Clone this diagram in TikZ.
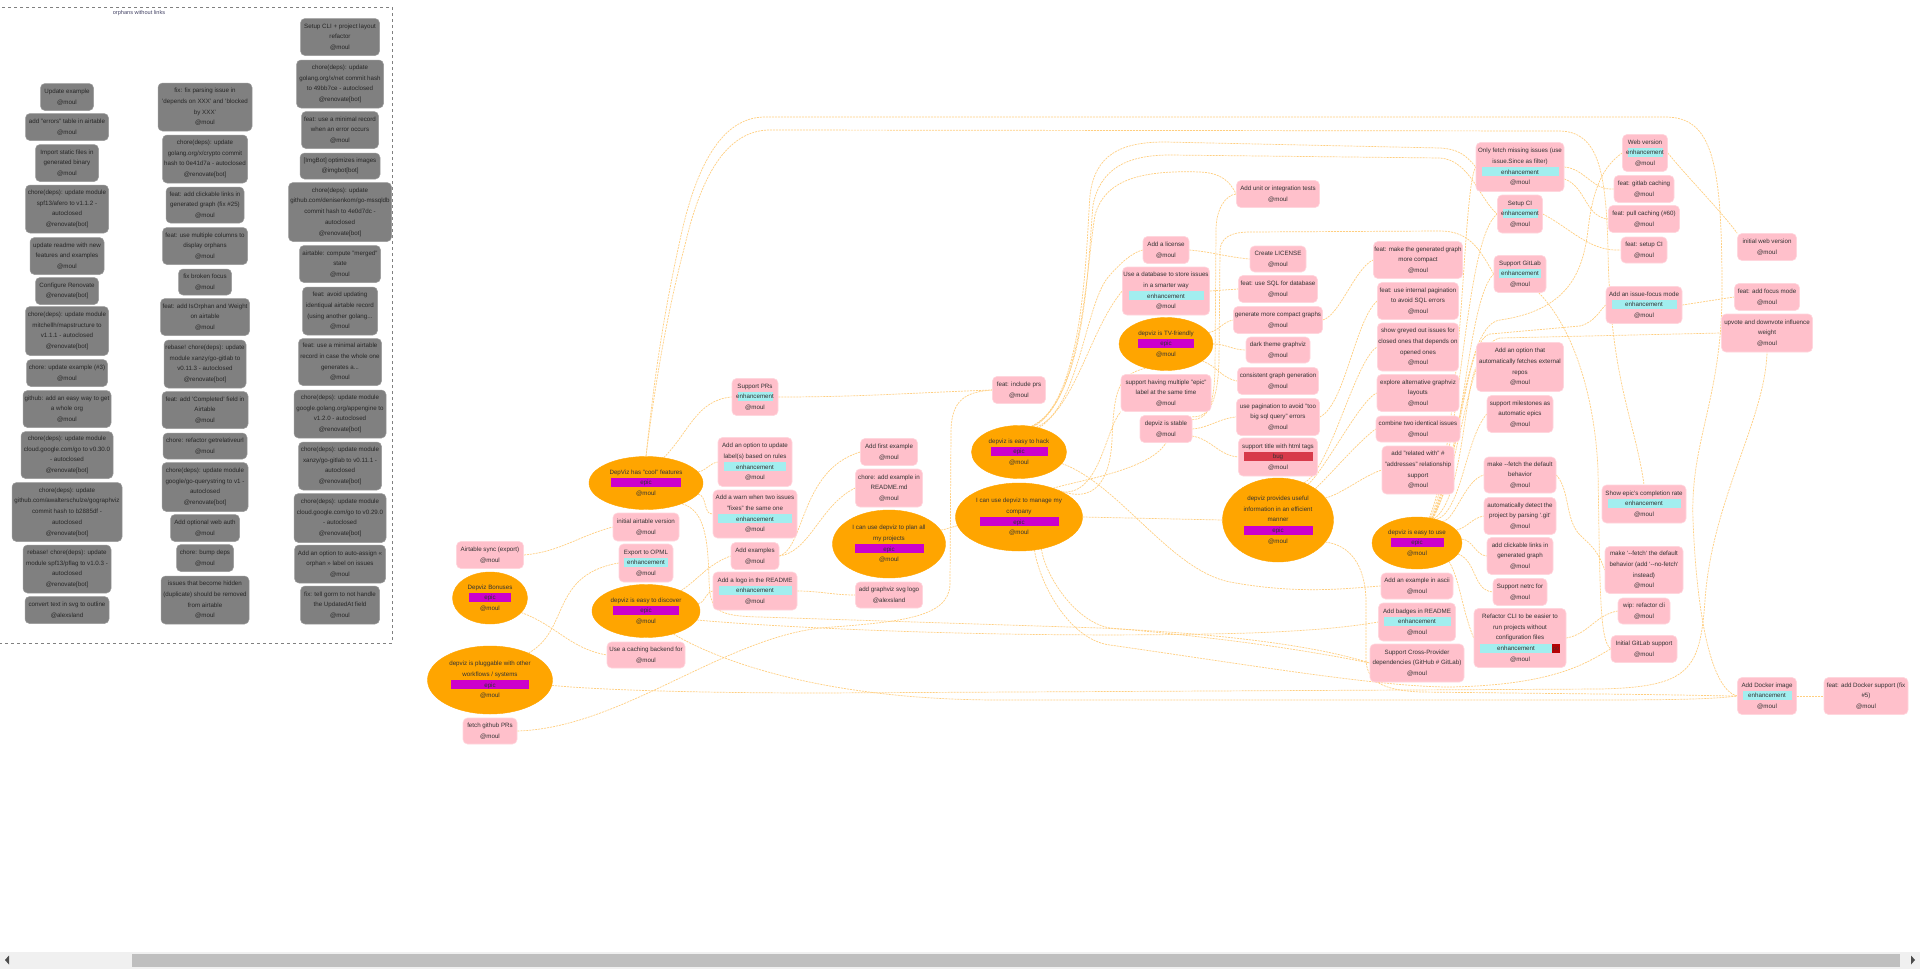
\documentclass[tikz,border=0pt]{standalone}
\usepackage{fontspec}
\setmainfont{Liberation Sans}
\usetikzlibrary{shapes.geometric}
\pgfdeclarelayer{bg}
\pgfsetlayers{bg,main}
\definecolor{pk}{HTML}{FFC0CB}
\definecolor{pkb}{HTML}{FFD6DD}
\definecolor{gy}{HTML}{808080}
\definecolor{gyb}{HTML}{9A9A9A}
\definecolor{ep}{HTML}{FFA500}
\definecolor{epl}{HTML}{CC00CC}
\definecolor{enh}{HTML}{A2EEEF}
\definecolor{bugc}{HTML}{D73A4A}
\definecolor{pzero}{HTML}{B60205}
\definecolor{tx}{HTML}{333333}
\definecolor{edgec}{HTML}{FFCF80}
\definecolor{ttl}{HTML}{444466}
\newcommand{\tagbox}[3]{{\setlength{\fboxsep}{0pt}\colorbox{#1}{\makebox[#2pt]{\rule[-2.3pt]{0pt}{9.3pt}#3}}}}
\tikzset{
  basetxt/.style={font=\fontsize{6.2}{10.7}\selectfont, text=tx, align=center, inner sep=1pt},
  pkn/.style 2 args={basetxt, rounded corners=4.5pt, fill=pk, draw=pkb, line width=0.6pt, minimum width=#1pt, minimum height=#2pt},
  gyn/.style 2 args={basetxt, rounded corners=4.5pt, fill=gy, draw=gyb, line width=0.5pt, minimum width=#1pt, minimum height=#2pt, text=black!85},
  epn/.style 2 args={basetxt, ellipse, fill=ep, draw=ep, inner sep=0pt, minimum width=#1pt, minimum height=#2pt},
  ed/.style={draw=edgec, line width=0.7pt, dash pattern=on 2pt off 1pt},
}
\begin{document}
\begin{tikzpicture}[x=1pt,y=-1pt]
\useasboundingbox (0,0) rectangle (1920,969);
\begin{pgfonlayer}{bg}
\fill[white] (0,0) rectangle (1920,969);
\end{pgfonlayer}

% ---------------- orphans cluster ----------------
\draw[gray, dashed, line width=0.5pt] (-1,7) rectangle (392,643);
\node[font=\fontsize{5.6}{6}\selectfont, text=ttl] (cltitle) at (139,13) {orphans without links};

\node[gyn={53}{27}] (g1) at (67,97) {Update example\\@moul};
\node[gyn={83}{27}] (g2) at (67,127) {add "errors" table in airtable\\@moul};
\node[gyn={63}{37}] (g3) at (67,163) {Import static files in\\generated binary\\@moul};
\node[gyn={83}{48}] (g4) at (67,209) {chore(deps): update module\\spf13/afero to v1.1.2 -\\autoclosed\\@renovate[bot]};
\node[gyn={74}{37}] (g5) at (67,256) {update readme with new\\features and examples\\@moul};
\node[gyn={63}{27}] (g6) at (67,291) {Configure Renovate\\@renovate[bot]};
\node[gyn={83}{49}] (g7) at (67,331) {chore(deps): update module\\mitchellh/mapstructure to\\v1.1.1 - autoclosed\\@renovate[bot]};
\node[gyn={81}{27}] (g8) at (67,373) {chore: update example (\#3)\\@moul};
\node[gyn={88}{37}] (g9) at (67,409) {github: add an easy way to get\\a whole org\\@moul};
\node[gyn={92}{47}] (g10) at (67,455) {chore(deps): update module\\cloud.google.com/go to v0.30.0\\- autoclosed\\@renovate[bot]};
\node[gyn={110}{59}] (g11) at (67,512) {chore(deps): update\\github.com/awalterschulze/gographviz\\commit hash to b2885df -\\autoclosed\\@renovate[bot]};
\node[gyn={88}{48}] (g12) at (67,569) {rebase! chore(deps): update\\module spf13/pflag to v1.0.3 -\\autoclosed\\@renovate[bot]};
\node[gyn={84}{27}] (g13) at (67,610) {convert text in svg to outline\\@alexsland};

\node[gyn={94}{48}] (h1) at (205,107) {fix: fix parsing issue in\\'depends on XXX' and 'blocked\\by XXX'\\@moul};
\node[gyn={85}{48}] (h2) at (205,159) {chore(deps): update\\golang.org/x/crypto commit\\hash to 0e41d7a - autoclosed\\@renovate[bot]};
\node[gyn={78}{36}] (h3) at (205,205) {feat: add clickable links in\\generated graph (fix \#25)\\@moul};
\node[gyn={85}{37}] (h4) at (205,246) {feat: use multiple columns to\\display orphans\\@moul};
\node[gyn={53}{26}] (h5) at (205,282) {fix broken focus\\@moul};
\node[gyn={89}{37}] (h6) at (205,317) {feat: add IsOrphan and Weight\\on airtable\\@moul};
\node[gyn={82}{48}] (h7) at (205,364) {rebase! chore(deps): update\\module xanzy/go-gitlab to\\v0.11.3 - autoclosed\\@renovate[bot]};
\node[gyn={86}{37}] (h8) at (205,410) {feat: add 'Completed' field in\\Airtable\\@moul};
\node[gyn={84}{26}] (h9) at (205,446) {chore: refactor getrelativeurl\\@moul};
\node[gyn={86}{49}] (h10) at (205,487) {chore(deps): update module\\google/go-querystring to v1 -\\autoclosed\\@renovate[bot]};
\node[gyn={69}{27}] (h11) at (205,528) {Add optional web auth\\@moul};
\node[gyn={57}{27}] (h12) at (205,558) {chore: bump deps\\@moul};
\node[gyn={88}{48}] (h13) at (205,600) {issues that become hidden\\(duplicate) should be removed\\from airtable\\@moul};

\node[gyn={79}{37}] (k1) at (340,37) {Setup CLI + project layout\\refactor\\@moul};
\node[gyn={87}{48}] (k2) at (340,84) {chore(deps): update\\golang.org/x/net commit hash\\to 49bb7ce - autoclosed\\@renovate[bot]};
\node[gyn={77}{37}] (k3) at (340,130) {feat: use a minimal record\\when an error occurs\\@moul};
\node[gyn={80}{26}] (k4) at (340,166) {[ImgBot] optimizes images\\@imgbot[bot]};
\node[gyn={103}{59}] (k5) at (340,212) {chore(deps): update\\github.com/denisenkom/go-mssqldb\\commit hash to 4e0d7dc -\\autoclosed\\@renovate[bot]};
\node[gyn={81}{37}] (k6) at (340,264) {airtable: compute "merged"\\state\\@moul};
\node[gyn={75}{48}] (k7) at (340,311) {feat: avoid updating\\identiqual airtable record\\(using another golang...\\@moul};
\node[gyn={83}{47}] (k8) at (340,362) {feat: use a minimal airtable\\record in case the whole one\\generates a...\\@moul};
\node[gyn={92}{48}] (k9) at (340,414) {chore(deps): update module\\google.golang.org/appengine to\\v1.2.0 - autoclosed\\@renovate[bot]};
\node[gyn={83}{48}] (k10) at (340,466) {chore(deps): update module\\xanzy/go-gitlab to v0.11.1 -\\autoclosed\\@renovate[bot]};
\node[gyn={92}{49}] (k11) at (340,518) {chore(deps): update module\\cloud.google.com/go to v0.29.0\\- autoclosed\\@renovate[bot]};
\node[gyn={91}{38}] (k12) at (340,564) {Add an option to auto-assign «\\orphan » label on issues\\@moul};
\node[gyn={79}{38}] (k13) at (340,605) {fix: tell gorm to not handle\\the UpdatedAt field\\@moul};

% ---------------- main graph: epics ----------------
\node[epn={114}{53}] (cool) at (646,483) {DepViz has "cool" features\\\tagbox{epl}{70}{epic}\\@moul};
\node[epn={75}{52}] (bonus) at (490,598) {Depviz Bonuses\\\tagbox{epl}{42}{epic}\\@moul};
\node[epn={108}{53}] (discover) at (646,611) {depviz is easy to discover\\\tagbox{epl}{66}{epic}\\@moul};
\node[epn={125}{68}] (pluggable) at (490,680) {depviz is pluggable with other\\workflows / systems\\\tagbox{epl}{78}{epic}\\@moul};
\node[epn={95}{53}] (hack) at (1019,452) {depviz is easy to hack\\\tagbox{epl}{57}{epic}\\@moul};
\node[epn={113}{68}] (plan) at (889,544) {I can use depviz to plan all\\my projects\\\tagbox{epl}{69}{epic}\\@moul};
\node[epn={127}{68}] (company) at (1019,517) {I can use depviz to manage my\\company\\\tagbox{epl}{79}{epic}\\@moul};
\node[epn={94}{53}] (tv) at (1166,344) {depviz is TV-friendly\\\tagbox{epl}{56}{epic}\\@moul};
\node[epn={111}{84}] (useful) at (1278,520) {depviz provides useful\\information in an efficient\\manner\\\tagbox{epl}{69}{epic}\\@moul};
\node[epn={90}{52}] (easyuse) at (1417,543) {depviz is easy to use\\\tagbox{epl}{53}{epic}\\@moul};

% ---------------- main graph: issues ----------------
\node[pkn={46}{37}] (supprs) at (755,397) {Support PRs\\\tagbox{enh}{35}{enhancement}\\@moul};
\node[pkn={74}{49}] (optlabel) at (755,462) {Add an option to update\\label(s) based on rules\\\tagbox{enh}{62}{enhancement}\\@moul};
\node[pkn={84}{48}] (warn) at (755,514) {Add a warn when two issues\\"fixes" the same one\\\tagbox{enh}{74}{enhancement}\\@moul};
\node[pkn={66}{28}] (initair) at (646,527) {initial airtable version\\@moul};
\node[pkn={67}{27}] (airsync) at (490,555) {Airtable sync (export)\\@moul};
\node[pkn={54}{38}] (opml) at (646,563) {Export to OPML\\\tagbox{enh}{44}{enhancement}\\@moul};
\node[pkn={48}{27}] (addex) at (755,556) {Add examples\\@moul};
\node[pkn={84}{38}] (logo) at (755,591) {Add a logo in the README\\\tagbox{enh}{73}{enhancement}\\@moul};
\node[pkn={78}{26}] (caching) at (646,655) {Use a caching backend for\\@moul};
\node[pkn={54}{26}] (fetchprs) at (490,731) {fetch github PRs\\@moul};
\node[pkn={57}{27}] (firstex) at (889,452) {Add first example\\@moul};
\node[pkn={67}{38}] (readmeex) at (889,488) {chore: add example in\\README.md\\@moul};
\node[pkn={67}{26}] (svglogo) at (889,595) {add graphviz svg logo\\@alexsland};
\node[pkn={53}{27}] (inclprs) at (1019,390) {feat: include prs\\@moul};
\node[pkn={46}{27}] (license) at (1166,250) {Add a license\\@moul};
\node[pkn={86}{48}] (database) at (1166,291) {Use a database to store issues\\in a smarter way\\\tagbox{enh}{75}{enhancement}\\@moul};
\node[pkn={90}{37}] (multiepic) at (1166,393) {support having multiple "epic"\\label at the same time\\@moul};
\node[pkn={52}{27}] (stable) at (1166,429) {depviz is stable\\@moul};
\node[pkn={83}{27}] (unittests) at (1278,194) {Add unit or integration tests\\@moul};
\node[pkn={56}{26}] (createlic) at (1278,259) {Create LICENSE\\@moul};
\node[pkn={79}{27}] (sqldb) at (1278,289) {feat: use SQL for database\\@moul};
\node[pkn={89}{27}] (compact) at (1278,320) {generate more compact graphs\\@moul};
\node[pkn={64}{26}] (dark) at (1278,350) {dark theme graphviz\\@moul};
\node[pkn={81}{27}] (consistent) at (1278,381) {consistent graph generation\\@moul};
\node[pkn={83}{37}] (pagination) at (1278,417) {use pagination to avoid "too\\big sql query" errors\\@moul};
\node[pkn={79}{38}] (htmltags) at (1278,457) {support title with html tags\\\tagbox{bugc}{69}{bug}\\@moul};
\node[pkn={89}{37}] (moregraph) at (1418,260) {feat: make the generated graph\\more compact\\@moul};
\node[pkn={81}{37}] (intpag) at (1418,301) {feat: use internal pagination\\to avoid SQL errors\\@moul};
\node[pkn={81}{48}] (greyed) at (1418,347) {show greyed out issues for\\closed ones that depends on\\opened ones\\@moul};
\node[pkn={82}{37}] (altlayout) at (1418,393) {explore alternative graphviz\\layouts\\@moul};
\node[pkn={84}{26}] (combine) at (1418,429) {combine two identical issues\\@moul};
\node[pkn={72}{48}] (related) at (1418,470) {add "related with" \#\\"addresses" relationship\\support\\@moul};
\node[pkn={72}{26}] (ascii) at (1417,586) {Add an example in ascii\\@moul};
\node[pkn={77}{38}] (badges) at (1417,622) {Add badges in README\\\tagbox{enh}{67}{enhancement}\\@moul};
\node[pkn={94}{38}] (crossprov) at (1417,663) {Support Cross-Provider\\dependencies (GitHub \# GitLab)\\@moul};
\node[pkn={88}{49}] (onlyfetch) at (1520,167) {Only fetch missing issues (use\\issue.Since as filter)\\\tagbox{enh}{77}{enhancement}\\@moul};
\node[pkn={45}{38}] (setupci) at (1520,214) {Setup CI\\\tagbox{enh}{35}{enhancement}\\@moul};
\node[pkn={52}{37}] (supgitlab) at (1520,274) {Support GitLab\\\tagbox{enh}{42}{enhancement}\\@moul};
\node[pkn={87}{49}] (extrepos) at (1520,367) {Add an option that\\automatically fetches external\\repos\\@moul};
\node[pkn={66}{37}] (milestones) at (1520,414) {support milestones as\\automatic epics\\@moul};
\node[pkn={72}{36}] (fetchdef) at (1520,475) {make -{}-fetch the default\\behavior\\@moul};
\node[pkn={72}{37}] (detectgit) at (1520,516) {automatically detect the\\project by parsing `.git`\\@moul};
\node[pkn={66}{37}] (clicklinks) at (1520,556) {add clickable links in\\generated graph\\@moul};
\node[pkn={54}{27}] (netrc) at (1520,592) {Support netrc for\\@moul};
\node[pkn={92}{59}] (refactor) at (1520,638) {Refactor CLI to be easier to\\run projects without\\configuration files\\\tagbox{enh}{72}{enhancement}\tagbox{pzero}{8}{\fontsize{5}{6}\selectfont p0}\\@moul};
\node[pkn={45}{37}] (webver) at (1645,153) {Web version\\\tagbox{enh}{35}{enhancement}\\@moul};
\node[pkn={60}{27}] (gitlabcache) at (1644,189) {feat: gitlab caching\\@moul};
\node[pkn={71}{27}] (pullcache) at (1644,219) {feat: pull caching (\#60)\\@moul};
\node[pkn={46}{26}] (feasetupci) at (1644,250) {feat: setup CI\\@moul};
\node[pkn={76}{37}] (focusmode) at (1644,305) {Add an issue-focus mode\\\tagbox{enh}{65}{enhancement}\\@moul};
\node[pkn={84}{38}] (completion) at (1644,504) {Show epic's completion rate\\\tagbox{enh}{73}{enhancement}\\@moul};
\node[pkn={78}{47}] (nofetch) at (1644,570) {make `-{}-fetch` the default\\behavior (add `-{}-no-fetch`\\instead)\\@moul};
\node[pkn={52}{26}] (wiprefactor) at (1644,611) {wip: refactor cli\\@moul};
\node[pkn={66}{27}] (initgitlab) at (1644,649) {Initial GitLab support\\@moul};
\node[pkn={59}{27}] (initweb) at (1767,247) {initial web version\\@moul};
\node[pkn={65}{27}] (addfocus) at (1767,297) {feat: add focus mode\\@moul};
\node[pkn={91}{38}] (upvote) at (1767,333) {upvote and downvote influence\\weight\\@moul};
\node[pkn={59}{37}] (docker) at (1767,696) {Add Docker image\\\tagbox{enh}{49}{enhancement}\\@moul};
\node[pkn={84}{37}] (dockersup) at (1866,696) {feat: add Docker support (fix\\\#5)\\@moul};

% ---------------- connectors ----------------
\begin{pgfonlayer}{bg}
\draw[ed] (airsync.east) to[out=5,in=195] (initair.west);
\draw[ed] (cool.55) to[out=45,in=185] (supprs.west);
\draw[ed] (cool.12) to[out=10,in=190] (optlabel.west);
\draw[ed] (cool.-12) to[out=-10,in=185] (warn.west);
\draw[ed] (supprs.east) to[out=0,in=182] (inclprs.west);
\draw[ed] (discover.30) to[out=35,in=200] (addex.west);
\draw[ed] (discover.8) to[out=10,in=190] (logo.west);
\draw[ed] (logo.east) to[out=0,in=180] (svglogo.west);
\draw[ed] (bonus.-25) to[out=-20,in=170] (caching.west);
\draw[ed] (pluggable.35) .. controls (570,630) and (550,575) .. (opml.west);
\draw[ed] (plan.15) to[out=10,in=195] (company.188);
\draw[ed] (addex.east) .. controls (805,548) and (800,470) .. (firstex.west);
\draw[ed] (addex.east) .. controls (810,552) and (820,505) .. (readmeex.west);
% top routes from cool
\draw[ed] (cool.north) .. controls (652,400) and (660,330) .. (680,240) .. controls (695,170) and (720,117) .. (765,117) -- (1665,117) .. controls (1712,117) and (1722,160) .. (1722,290) .. controls (1722,400) and (1690,440) .. (1693,520) .. controls (1697,620) and (1712,690) .. (docker.west);
\draw[ed] (cool.north) .. controls (653,400) and (665,320) .. (685,245) .. controls (700,180) and (725,130) .. (770,130) -- (1560,131) .. controls (1598,132) and (1606,170) .. (1608,250) .. controls (1610,380) and (1635,420) .. (completion.north);
\draw[ed] (cool.-30) .. controls (705,510) and (708,540) .. (709,580) .. controls (710,610) and (715,616) .. (760,617) -- (1100,628) .. controls (1250,635) and (1330,650) .. (crossprov.west);
% discover / pluggable long routes
\draw[ed] (discover.-10) .. controls (760,626) and (1000,640) .. (1250,633) .. controls (1330,630) and (1360,625) .. (badges.west);
\draw[ed] (discover.-40) .. controls (700,650) and (800,700) .. (1000,700) -- (1600,700) .. controls (1700,700) and (1720,698) .. (docker.west);
\draw[ed] (pluggable.-5) .. controls (600,690) and (700,693) .. (820,693) -- (1600,689) .. controls (1690,687) and (1700,670) .. (1705,600) .. controls (1712,500) and (1765,420) .. (upvote.south);
\draw[ed] (fetchprs.east) .. controls (620,728) and (720,640) .. (820,628) .. controls (900,622) and (948,618) .. (950,585) -- (951,430) .. controls (952,400) and (965,392) .. (inclprs.west);
% hack
\draw[ed] (hack.55) .. controls (1080,410) and (1085,300) .. (1110,275) .. controls (1125,258) and (1135,252) .. (license.west);
\draw[ed] (hack.50) .. controls (1078,400) and (1090,330) .. (database.west);
\draw[ed] (hack.60) .. controls (1082,400) and (1086,270) .. (1095,215) .. controls (1105,180) and (1140,170) .. (1200,172) .. controls (1222,173) and (1230,182) .. (unittests.west);
\draw[ed] (hack.62) .. controls (1084,400) and (1086,250) .. (1090,195) .. controls (1095,155) and (1120,142) .. (1165,142) -- (1440,148) .. controls (1458,149) and (1466,155) .. (onlyfetch.west);
\draw[ed] (hack.64) .. controls (1086,400) and (1088,260) .. (1093,205) .. controls (1100,170) and (1125,155) .. (1170,155) -- (1440,158) .. controls (1470,160) and (1480,200) .. (setupci.west);
\draw[ed] (hack.-15) .. controls (1120,485) and (1170,570) .. (1230,582) .. controls (1300,595) and (1350,588) .. (ascii.west);
% company
\draw[ed] (company.east) -- (useful.west);
\draw[ed] (company.35) .. controls (1095,505) and (1110,480) .. (1112,440) .. controls (1114,390) and (1118,375) .. (tv.-130);
\draw[ed] (company.30) .. controls (1100,495) and (1105,430) .. (multiepic.south west);
\draw[ed] (company.40) .. controls (1080,480) and (1150,470) .. (stable.south);
\draw[ed] (company.-55) .. controls (1045,575) and (1075,622) .. (1110,628) .. controls (1250,640) and (1330,655) .. (crossprov.west);
\draw[ed] (company.-65) .. controls (1040,585) and (1070,640) .. (1110,645) .. controls (1250,665) and (1380,687) .. (1450,687) .. controls (1560,685) and (1590,660) .. (initgitlab.west);
% tv / stable
\draw[ed] (tv.15) to[out=10,in=190] (compact.west);
\draw[ed] (tv.east) to[out=0,in=180] (dark.west);
\draw[ed] (tv.-25) to[out=-20,in=170] (consistent.west);
\draw[ed] (license.east) to[out=-5,in=175] (createlic.west);
\draw[ed] (database.east) -- (sqldb.west);
\draw[ed] (stable.east) to[out=5,in=185] (pagination.west);
\draw[ed] (stable.-15) to[out=-10,in=175] (htmltags.west);
\draw[ed] (stable.20) .. controls (1210,420) and (1214,400) .. (1215,370) -- (1216,230) .. controls (1216,210) and (1225,195) .. (unittests.west);
\draw[ed] (stable.25) .. controls (1212,418) and (1218,395) .. (1219,360) -- (1220,250) .. controls (1221,238) and (1230,232) .. (1250,232) -- (1440,231) .. controls (1470,231) and (1480,250) .. (supgitlab.west);
\draw[ed] (compact.east) .. controls (1340,315) and (1355,268) .. (moregraph.west);
\draw[ed] (pagination.east) .. controls (1345,405) and (1355,320) .. (intpag.west);
% useful
\draw[ed] (useful.55) .. controls (1330,470) and (1355,360) .. (greyed.west);
\draw[ed] (useful.50) .. controls (1325,470) and (1360,400) .. (altlayout.west);
\draw[ed] (useful.40) .. controls (1330,475) and (1360,440) .. (combine.west);
\draw[ed] (useful.25) .. controls (1340,495) and (1365,475) .. (related.west);
\draw[ed] (useful.-25) .. controls (1350,545) and (1365,565) .. (1366,600) -- (1366,660) .. controls (1367,680) and (1380,690) .. (1420,692) -- (1600,694) .. controls (1700,695) and (1720,696) .. (docker.west);
% easy to use
\draw[ed] (easyuse.40) .. controls (1455,520) and (1465,480) .. (fetchdef.west);
\draw[ed] (easyuse.18) to[out=15,in=190] (detectgit.west);
\draw[ed] (easyuse.5) to[out=-5,in=175] (clicklinks.west);
\draw[ed] (easyuse.-15) to[out=-20,in=175] (netrc.west);
\draw[ed] (easyuse.-30) .. controls (1460,580) and (1462,610) .. (refactor.west);
\draw[ed] (easyuse.50) .. controls (1462,510) and (1465,440) .. (milestones.west);
\draw[ed] (easyuse.55) .. controls (1463,500) and (1464,390) .. (extrepos.west);
\draw[ed] (easyuse.60) .. controls (1462,480) and (1466,300) .. (supgitlab.west);
\draw[ed] (easyuse.62) .. controls (1462,450) and (1464,240) .. (setupci.west);
\draw[ed] (easyuse.64) .. controls (1464,430) and (1462,190) .. (onlyfetch.west);
\draw[ed] (easyuse.58) .. controls (1463,450) and (1465,340) .. (1490,334) -- (1580,326) .. controls (1595,322) and (1600,310) .. (focusmode.west);
\draw[ed] (easyuse.57) .. controls (1464,460) and (1466,345) .. (1500,338) -- (upvote.west);
\draw[ed] (easyuse.59) .. controls (1464,440) and (1465,325) .. (1500,320) .. controls (1570,310) and (1583,270) .. (1588,230) .. controls (1593,185) and (1605,165) .. (webver.west);
% right side
\draw[ed] (onlyfetch.east) to[out=-5,in=185] (gitlabcache.west);
\draw[ed] (onlyfetch.-15) to[out=-20,in=175] (pullcache.west);
\draw[ed] (setupci.east) .. controls (1570,228) and (1590,252) .. (feasetupci.west);
\draw[ed] (webver.east) .. controls (1690,180) and (1720,210) .. (initweb.north west);
\draw[ed] (focusmode.east) -- (addfocus.west);
\draw[ed] (docker.east) -- (dockersup.west);
\draw[ed] (refactor.east) to[out=10,in=190] (wiprefactor.west);
\draw[ed] (supgitlab.-45) .. controls (1575,330) and (1595,400) .. (1598,470) .. controls (1600,600) and (1600,640) .. (initgitlab.west);
\draw[ed] (fetchdef.east) .. controls (1570,490) and (1565,520) .. (1580,535) .. controls (1590,545) and (1598,550) .. (nofetch.west);
\end{pgfonlayer}

% ---------------- scrollbar ----------------
\fill[black!6] (0,952) rectangle (1920,969);
\fill[black!25] (132,954) rectangle (1900,967);
\fill[black!70] (5,960) -- (9,955.5) -- (9,964.5) -- cycle;
\fill[black!70] (1915,960) -- (1911,955.5) -- (1911,964.5) -- cycle;
\end{tikzpicture}
\end{document}
